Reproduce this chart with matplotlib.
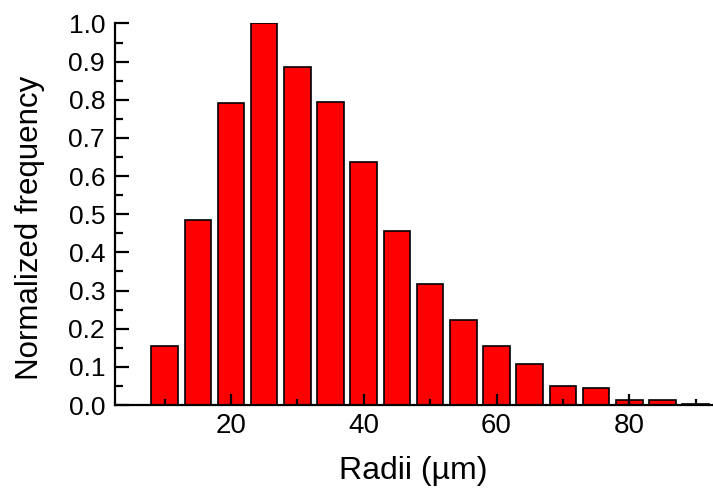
import matplotlib
matplotlib.use("Agg")
import matplotlib.pyplot as plt
from matplotlib.ticker import MultipleLocator, FormatStrFormatter

# radii bin centres (um) and normalized frequency
radii = [10, 15, 20, 25, 30, 35, 40, 45, 50, 55, 60, 65, 70, 75, 80, 85, 90]
freq = [0.155, 0.484, 0.792, 1.0, 0.885, 0.795, 0.638, 0.457, 0.318, 0.223,
        0.155, 0.107, 0.051, 0.044, 0.014, 0.014, 0.003]

plt.rcParams['font.family'] = ['Liberation Sans', 'DejaVu Sans']

fig = plt.figure(figsize=(7.13, 4.88), dpi=100)
ax = fig.add_axes([0.161, 0.170, 0.838, 0.782])

ax.bar(radii, freq, width=4.0, color='#ff0000', edgecolor='black', linewidth=1.2)

ax.set_xlim(2.5, 92.5)
ax.set_ylim(0, 1.0)

# only left/bottom spines, ticks pointing in
for side in ['top', 'right']:
    ax.spines[side].set_visible(False)
for side in ['left', 'bottom']:
    ax.spines[side].set_linewidth(1.6)

ax.xaxis.set_major_locator(MultipleLocator(20))
ax.xaxis.set_minor_locator(MultipleLocator(10))
ax.yaxis.set_major_locator(MultipleLocator(0.1))
ax.yaxis.set_minor_locator(MultipleLocator(0.05))
ax.yaxis.set_major_formatter(FormatStrFormatter('%.1f'))

ax.tick_params(axis='x', which='major', direction='in', length=8, width=1.6, labelsize=20, pad=6)
ax.tick_params(axis='x', which='minor', direction='in', length=4, width=1.6)
ax.tick_params(axis='y', which='major', direction='in', length=10, width=1.6, labelsize=19, pad=7)
ax.tick_params(axis='y', which='minor', direction='in', length=6, width=1.6)

ax.set_xlabel('Radii (µm)', fontsize=23, labelpad=12)
ax.set_ylabel('Normalized frequency', fontsize=22.5)
ax.yaxis.set_label_coords(-0.116, 0.463)

fig.savefig('out.png', dpi=100)
